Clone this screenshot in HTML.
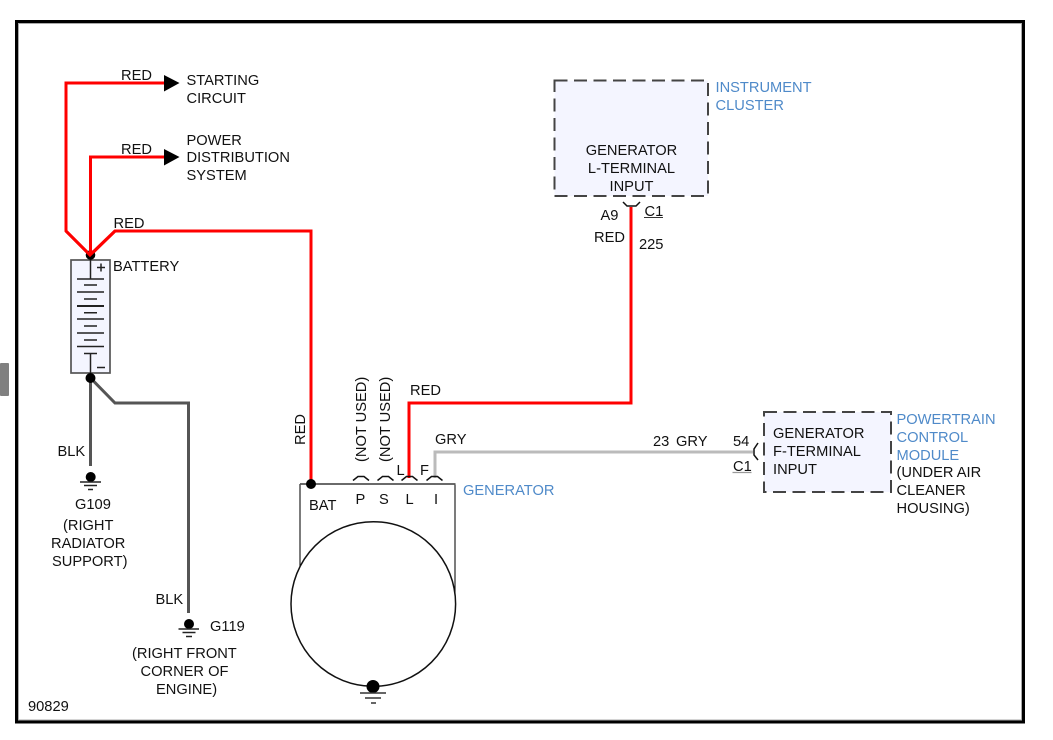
<!DOCTYPE html>
<html>
<head>
<meta charset="utf-8">
<style>
html,body{margin:0;padding:0;background:#fff;width:1053px;height:740px;overflow:hidden}
svg{display:block}
text{font-family:"Liberation Sans",Arial,sans-serif;font-size:14.67px;fill:#111}
.b{fill:#4f8ac9}
.w{fill:none;stroke-width:3;stroke-linejoin:miter}
.r{stroke:#f00}
.k{stroke:#555}
.g{stroke:#bbb}
.d{fill:#f4f5ff;stroke:#444;stroke-width:2;stroke-dasharray:13 6.5}
.t{fill:none;stroke:#111;stroke-width:1.5}
.p{stroke:#222;stroke-width:1.5}
</style>
</head>
<body>
<svg width="1053" height="740" viewBox="0 0 1053 740" xmlns="http://www.w3.org/2000/svg">
<rect x="0" y="363" width="9" height="33" rx="1" fill="#808080"/>
<rect x="16.5" y="21.5" width="1007" height="700.5" fill="#fff" stroke="#000" stroke-width="3"/>
<rect x="18.5" y="23.5" width="1003" height="696.5" fill="none" stroke="#aaa" stroke-width="1"/>

<!-- Wires -->
<path class="w r" d="M165,83 H66 V231 L90,255"/>
<path class="w r" d="M165,157 H90.5 V255"/>
<path class="w r" d="M90.5,255 L115,231 H311 V484"/>
<path class="w r" d="M409,478 V403 H631 V207"/>
<path class="w g" d="M435,478 V452 H753"/>
<polygon points="164,75 179.500,83 164,91.500" fill="#000"/>
<polygon points="164,149 179.500,157 164,165.500" fill="#000"/>

<!-- Battery -->
<rect x="71" y="260" width="39" height="113" fill="#f4f5ff" stroke="#555" stroke-width="1.7"/>
<g class="p">
<path d="M90.500,255 V279" fill="none"/>
<path d="M77,279 H104 M84,285 H97 M77,292 H104 M84,299 H97 M84,312.700 H97 M77,319 H104 M84,326 H97 M77,333 H104 M84,340 H97 M77,346.500 H104 M84,353.500 H97 M90.500,353.500 V373" fill="none"/>
<path d="M77,306 H104" stroke-width="2" fill="none"/>
<path d="M97,267.500 H105 M101,263.500 V271.500 M97,367.500 H105" fill="none"/>
</g>
<circle cx="90.500" cy="255" r="4.800" fill="#000"/>
<path class="w r" d="M66,231 L90,255 L115,231" />
<path class="w r" d="M90.500,235 V254"/>

<path class="w k" d="M90.500,378 V466"/>
<path class="w k" d="M90.500,378 L115,403 H188.500 V613"/>
<circle cx="90.500" cy="378" r="5" fill="#000"/>

<!-- Grounds -->
<circle cx="90.700" cy="477" r="5" fill="#000"/>
<path d="M80,482 H101 M84,485.500 H97 M88,489.500 H93" stroke="#222" stroke-width="1.400" fill="none"/>
<circle cx="189" cy="624" r="5" fill="#000"/>
<path d="M178.500,629 H199 M182.500,632.500 H195.500 M186,636.500 H192" stroke="#222" stroke-width="1.400" fill="none"/>

<!-- Generator -->
<path d="M300,484 V566 M455,484 V604" stroke="#111" stroke-width="1.100" fill="none"/>
<path d="M300,484 H455.500" stroke="#555" stroke-width="1.800" fill="none"/>
<circle cx="373.300" cy="604" r="82.300" fill="#fff" stroke="#111" stroke-width="1.500"/>
<circle cx="311" cy="484" r="5" fill="#000"/>
<circle cx="373" cy="686.500" r="6.500" fill="#000"/>
<path d="M360,693 H386 M365,698 H381 M371,703 H376" stroke="#333" stroke-width="1.600" fill="none"/>
<path class="t" d="M353,480.500 L358,476.500 H364 L369,480.500"/>
<path class="t" d="M377.500,480.500 L382.500,476.500 H388.500 L393.500,480.500"/>
<path class="t" d="M401.500,480.500 L406.500,476.500 H412.500 L417.500,480.500"/>
<path class="t" d="M426.500,480.500 L431.500,476.500 H437.500 L442.500,480.500"/>

<!-- Instrument cluster -->
<rect class="d" x="554.500" y="80.500" width="153.500" height="115.500"/>
<path class="t" d="M623,202 L627,206 H636 L640,202"/>

<!-- PCM -->
<rect class="d" x="764" y="412" width="127" height="80"/>
<path class="t" d="M758,443 L754,449 V455 L758,460"/>
<path d="M644,217.500 H663" stroke="#333" stroke-width="1"/>
<path d="M732.500,472.500 H751.500" stroke="#999" stroke-width="1.200"/>

<!-- Labels -->
<text x="121" y="80">RED</text>
<text x="186.500" y="85">STARTING</text>
<text x="186.500" y="103">CIRCUIT</text>
<text x="121" y="154">RED</text>
<text x="186.500" y="145">POWER</text>
<text x="186.500" y="162">DISTRIBUTION</text>
<text x="186.500" y="180">SYSTEM</text>
<text x="113.500" y="228">RED</text>
<text x="113" y="271">BATTERY</text>
<text x="57.500" y="456">BLK</text>
<text x="75" y="509">G109</text>
<text x="63" y="530">(RIGHT</text>
<text x="51" y="548">RADIATOR</text>
<text x="52" y="566">SUPPORT)</text>
<text x="155.500" y="604">BLK</text>
<text x="210" y="631">G119</text>
<text x="132" y="658">(RIGHT FRONT</text>
<text x="140.500" y="676">CORNER OF</text>
<text x="156" y="694">ENGINE)</text>
<text x="28" y="711">90829</text>

<text transform="translate(305,445) rotate(-90)">RED</text>
<text transform="translate(366,462) rotate(-90)">(NOT USED)</text>
<text transform="translate(390,462) rotate(-90)">(NOT USED)</text>
<text x="410" y="395">RED</text>
<text x="435" y="444">GRY</text>
<text x="396.500" y="475">L</text>
<text x="420" y="475">F</text>
<text x="309" y="510">BAT</text>
<text x="355.500" y="504">P</text>
<text x="379" y="504">S</text>
<text x="405.500" y="504">L</text>
<text x="434" y="504">I</text>
<text class="b" x="463" y="495">GENERATOR</text>

<text x="631.500" y="155" text-anchor="middle">GENERATOR</text>
<text x="631.500" y="173" text-anchor="middle">L-TERMINAL</text>
<text x="631.500" y="191" text-anchor="middle">INPUT</text>
<text class="b" x="715.500" y="92">INSTRUMENT</text>
<text class="b" x="715.500" y="110">CLUSTER</text>
<text x="600.500" y="220">A9</text>
<text x="644.500" y="216">C1</text>
<text x="594" y="242">RED</text>
<text x="639" y="249">225</text>

<text x="653" y="446">23</text>
<text x="676" y="446">GRY</text>
<text x="733" y="446">54</text>
<text x="733" y="471">C1</text>
<text x="773" y="438">GENERATOR</text>
<text x="773" y="456">F-TERMINAL</text>
<text x="773" y="474">INPUT</text>
<text class="b" x="896.500" y="424">POWERTRAIN</text>
<text class="b" x="896.500" y="442">CONTROL</text>
<text class="b" x="896.500" y="460">MODULE</text>
<text x="896.500" y="477">(UNDER AIR</text>
<text x="896.500" y="495">CLEANER</text>
<text x="896.500" y="513">HOUSING)</text>
</svg>
</body>
</html>
